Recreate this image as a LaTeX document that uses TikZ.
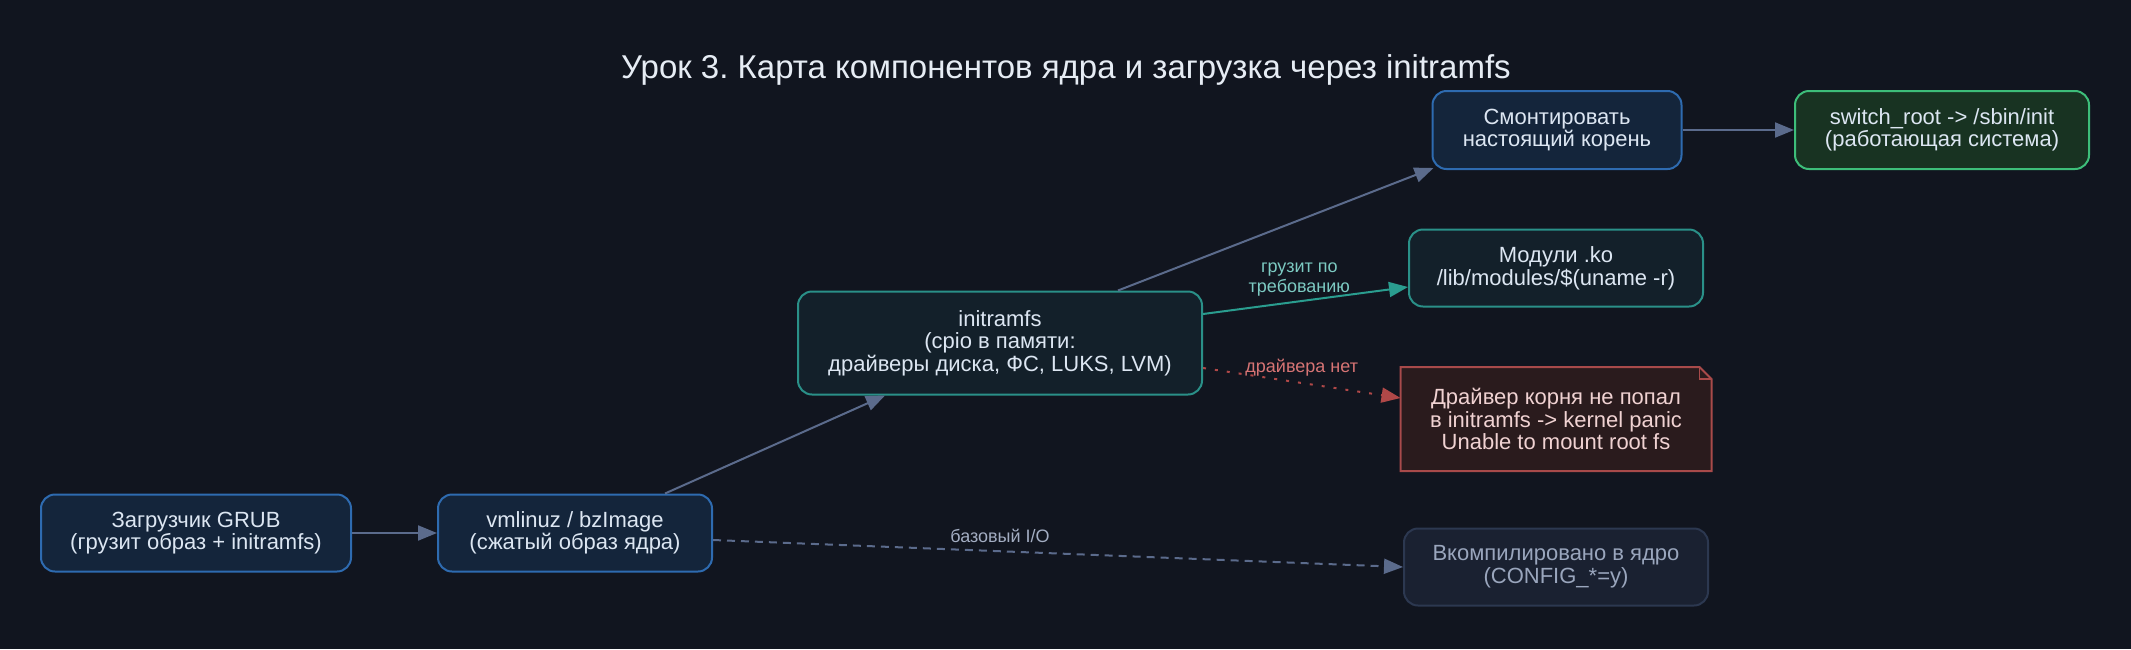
\documentclass[tikz,border=0pt]{standalone}
\usepackage{fontspec}
\setmainfont{Liberation Sans}
\usetikzlibrary{arrows.meta}
\usepackage{xcolor}
\frenchspacing

\definecolor{bg}{HTML}{11151F}
\definecolor{bluefill}{HTML}{14253B}
\definecolor{blueline}{HTML}{2E6BB0}
\definecolor{tealfill}{HTML}{13202A}
\definecolor{tealline}{HTML}{2A9088}
\definecolor{greenfill}{HTML}{183322}
\definecolor{greenline}{HTML}{3DBE7A}
\definecolor{panicfill}{HTML}{2A1B1D}
\definecolor{panicline}{HTML}{A84A4A}
\definecolor{panictext}{HTML}{F0D2D2}
\definecolor{greyfill}{HTML}{1A2131}
\definecolor{greyline}{HTML}{2C3850}
\definecolor{greytext}{HTML}{9AA6BD}
\definecolor{nodetext}{HTML}{DCE6F2}
\definecolor{titletext}{HTML}{E6ECF4}
\definecolor{edgegrey}{HTML}{5B6B8C}
\definecolor{tealedge}{HTML}{2A9D8F}
\definecolor{teallabel}{HTML}{7CCAC2}
\definecolor{rededge}{HTML}{B04848}
\definecolor{redlabel}{HTML}{D77474}
\definecolor{dashlabel}{HTML}{A3ADC2}

\begin{document}
\begin{tikzpicture}[x=0.5pt,y=-0.5pt,
					box/.style={rounded corners=7pt, line width=1pt, align=center, text=nodetext,
						font=\fontsize{11}{11.3}\selectfont, minimum height=38.5pt, inner sep=0pt},
					bluebox/.style={box, draw=blueline, fill=bluefill},
					tealbox/.style={box, draw=tealline, fill=tealfill},
					greenbox/.style={box, draw=greenline, fill=greenfill},
					greybox/.style={box, draw=greyline, fill=greyfill, text=greytext},
					notebox/.style={box, rounded corners=0pt, fill=panicfill, text=panictext},
					link/.style={draw=edgegrey, line width=1pt, -{Triangle[length=9.5pt,width=7.5pt]}},
					elabel/.style={font=\fontsize{9}{10}\selectfont, align=center, inner sep=1pt}]
    % Background and title
    \fill[bg] (0,0) rectangle (2131,649);
    \node[text=titletext, font=\fontsize{16.5}{19}\selectfont] (title) at (1066,70)
    	{Урок 3. Карта компонентов ядра и загрузка через initramfs};
    % Place nodes
    \node [bluebox, minimum width=155pt] (grub) at (196,533){Загрузчик GRUB\\(грузит образ + initramfs)};
    \node [bluebox, minimum width=137pt] (vmlinuz) at (575,533){vmlinuz / bzImage\\(сжатый образ ядра)};
    \node [tealbox, minimum width=202pt, minimum height=51.5pt] (initrd) at (1000,343){initramfs\\(cpio в памяти:\\драйверы диска, ФС, LUKS, LVM)};
    \node [bluebox, minimum width=124.5pt, minimum height=39pt] (mount) at (1557,130){Смонтировать\\настоящий корень};
    \node [greenbox, minimum width=147pt, minimum height=39pt] (switchroot) at (1942,130){switch\_root -> /sbin/init\\(работающая система)};
    \node [tealbox, minimum width=147pt] (modules) at (1556,268){Модули .ko\\/lib/modules/\$(uname -r)};
    \node [notebox, minimum width=154.5pt, minimum height=51pt] (panic) at (1556,419){Драйвер корня не попал\\в initramfs -> kernel panic\\Unable to mount root fs};
    \node [greybox, minimum width=152pt] (builtin) at (1556,567){Вкомпилировано в ядро\\(CONFIG\_*=y)};
    % Note outline with folded corner
    \fill[bg] ([xshift=-6pt]panic.north east) -- (panic.north east) -- ([yshift=-6pt]panic.north east) -- cycle;
    \draw[panicline, line width=1pt] (panic.north west) -- ([xshift=-6pt]panic.north east)
    	-- ([yshift=-6pt]panic.north east) -- (panic.south east) -- (panic.south west) -- cycle;
    \draw[panicline, line width=0.8pt] ([xshift=-6pt]panic.north east) -- ([xshift=-6pt,yshift=-6pt]panic.north east)
    	-- ([yshift=-6pt]panic.north east);
    % Draw edges
    \draw[link] (grub) -- (vmlinuz);
    \draw[link] ([xshift=45pt]vmlinuz.north) -- ([xshift=-57.5pt]initrd.south);
    \draw[link] ([xshift=59pt]initrd.north) -- ([xshift=1pt,yshift=1pt]mount.south west);
    \draw[link] (mount) -- (switchroot);
    \draw[link, draw=tealedge, fill=tealedge] ([yshift=14.5pt]initrd.east) -- ([yshift=-9.5pt]modules.west)
    	node[elabel, pos=0.47, above=1pt, text=teallabel] (lbmod) {грузит по\\требованию};
    \draw[link, draw=rededge, dash pattern=on 1.5pt off 4.5pt] ([yshift=-12.5pt]initrd.east) -- ([yshift=10.5pt]panic.west)
    	node[elabel, pos=0.5, above=2pt, text=redlabel] (lbpanic) {драйвера нет};
    \draw[link, dash pattern=on 4pt off 3pt] ([yshift=-3.5pt]vmlinuz.east) -- (builtin.west)
    	node[elabel, pos=0.416, above=3pt, text=dashlabel] (lbio) {базовый I/O};
\end{tikzpicture}
\end{document}
